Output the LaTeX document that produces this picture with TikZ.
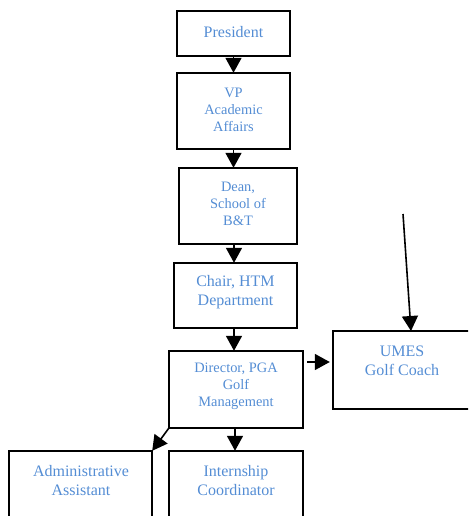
\documentclass[tikz,border=0pt]{standalone}
\usepackage{fontspec}
\setmainfont{Liberation Serif}
\usetikzlibrary{arrows.meta}
\definecolor{txtblue}{RGB}{84,141,212}
\tikzset{
  box/.style={draw=black, line width=1.6pt, fill=none},
  lblA/.style={text=txtblue, align=center, font=\fontsize{14.4}{17}\selectfont, inner sep=0pt},
  lblB/.style={text=txtblue, align=center, font=\fontsize{16}{19}\selectfont, inner sep=0pt},
  conn/.style={line width=1.6pt, -{Triangle[width=16pt,length=15pt]}}
}
\begin{document}
\begin{tikzpicture}[x=1pt,y=-1pt]
\useasboundingbox (0,0) rectangle (468,516);
\clip (0,0) rectangle (468,516);
% boxes
\node[inner sep=0, minimum width=113pt, minimum height=45pt] (pres) at (233.5,33.5) {};
\node[inner sep=0, minimum width=113pt, minimum height=76pt] (vp) at (233.5,111) {};
\node[inner sep=0, minimum width=118pt, minimum height=76pt] (dean) at (238,206) {};
\node[inner sep=0, minimum width=123pt, minimum height=65pt] (chair) at (235.5,295.5) {};
\node[inner sep=0, minimum width=134pt, minimum height=77pt] (dir) at (236,389.5) {};
\node[inner sep=0, minimum width=142pt, minimum height=78pt] (umes) at (404,370) {};
\node[inner sep=0, minimum width=143pt, minimum height=90pt] (admin) at (80.5,496) {};
\node[inner sep=0, minimum width=134pt, minimum height=90pt] (intern) at (236,496) {};
\foreach \n in {pres,vp,dean,chair,dir,umes,admin,intern}{
  \draw[box] (\n.south west) rectangle (\n.north east);
}
% labels
\node[lblB] (tpres) at (233.5,32) {President};
\node[lblA] (tvp) at (233.5,110) {VP\\Academic\\Affairs};
\node[lblA] (tdean) at (238,203.5) {Dean,\\School of\\B\&T};
\node[lblB] (tchair) at (235.5,292.5) {Chair, HTM\\Department};
\node[lblA] (tdir) at (236,386) {Director, PGA\\Golf\\Management};
\node[lblB] (tumes) at (402,360.5) {UMES\\Golf Coach};
\node[lblB] (tadmin) at (81,481) {Administrative\\Assistant};
\node[lblB] (tintern) at (236,481) {Internship\\Coordinator};
% connectors
\draw[conn] (pres.south) -- (vp.north);
\draw[conn] (vp.south) -- (vp.south |- dean.north);
\draw[conn] ([xshift=-4pt]dean.south) -- ([xshift=-4pt]dean.south |- chair.north);
\draw[conn] ([xshift=-1.5pt]chair.south) -- ([xshift=-1.5pt]chair.south |- dir.north);
\coordinate (dirR) at ([xshift=4pt,yshift=27.5pt]dir.east);
\draw[conn] (dirR) -- ([xshift=-3pt]dirR -| umes.west);
\draw[conn] (dir.south west) -- (admin.north east);
\draw[conn] ([xshift=-1pt]dir.south) -- ([xshift=-1pt]dir.south |- intern.north);
\coordinate (freeA) at (403,214);
\coordinate (freeB) at (411,331);
\draw[conn] (freeA) -- (freeB);
\end{tikzpicture}
\end{document}
